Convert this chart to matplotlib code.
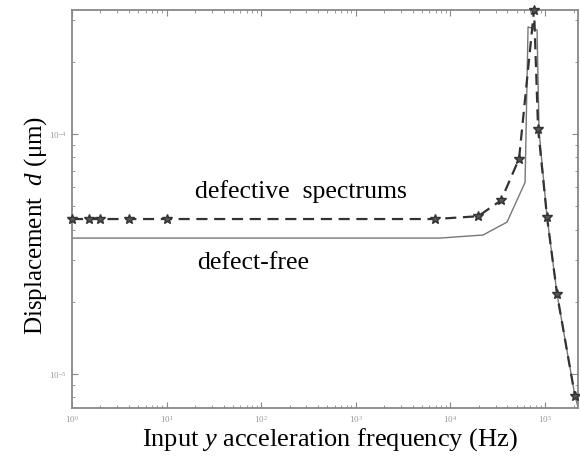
import numpy as np
import matplotlib
matplotlib.use("Agg")
import matplotlib.pyplot as plt
from matplotlib.ticker import LogLocator, NullFormatter

plt.rcParams['font.family'] = ['Liberation Serif', 'DejaVu Serif']
plt.rcParams['mathtext.fontset'] = 'custom'
plt.rcParams['mathtext.rm'] = 'Liberation Serif'
plt.rcParams['mathtext.it'] = 'Liberation Serif:italic'

# defect-free response (solid)
free_freq = [1, 7760, 22100, 39600, 61500, 66100, 82300, 86400, 105000, 134000, 207000, 223000]
free_disp = [3.69e-5, 3.69e-5, 3.8e-5, 4.3e-5, 6.3e-5, 2.8e-4, 2.72e-4, 1.03e-4, 4.5e-5, 2.15e-5, 8.1e-6, 7.3e-6]

# defective spectrums (dashed, with markers)
defect_freq = [1, 1.5, 2, 4, 10, 6870, 19600, 34300, 53100, 76500, 84400, 105000, 134000, 207000]
defect_disp = [4.43e-5, 4.43e-5, 4.43e-5, 4.43e-5, 4.43e-5, 4.43e-5, 4.55e-5, 5.3e-5, 7.9e-5,
               3.3e-4, 1.05e-4, 4.5e-5, 2.15e-5, 8.1e-6]

fig = plt.figure(figsize=(5.8, 4.58), dpi=100)
ax = fig.add_axes([0.124, 0.109, 0.8726, 0.869])

ax.loglog(free_freq, free_disp, color='#777777', lw=1.0, ls='-')
ax.loglog(defect_freq, defect_disp, color='#333333', lw=1.6, ls=(0, (5, 3)),
          marker='*', markersize=7, markerfacecolor='#555555', markeredgecolor='#333333',
          clip_on=False, zorder=3)

ax.set_xlim(1, 2.23e5)
ax.set_ylim(7.22e-6, 3.29e-4)

ax.text(0.243, 0.543, 'defective  spectrums', transform=ax.transAxes, fontsize=18.5, va='center')
ax.text(0.247, 0.364, 'defect-free', transform=ax.transAxes, fontsize=18.5, va='center')

ax.set_xlabel('Input $y$ acceleration frequency (Hz)', fontsize=19)
ax.set_ylabel('Displacement  $d$ (\u03bcm)', fontsize=18)
ax.xaxis.set_label_coords(0.51, -0.045)
ax.yaxis.set_label_coords(-0.045, 0.46)

ax.xaxis.set_major_locator(LogLocator(base=10, numticks=10))
ax.xaxis.set_minor_locator(LogLocator(base=10, subs=np.arange(2, 10), numticks=20))
ax.yaxis.set_minor_locator(LogLocator(base=10, subs=np.arange(2, 10), numticks=20))
ax.xaxis.set_minor_formatter(NullFormatter())
ax.yaxis.set_minor_formatter(NullFormatter())

ax.tick_params(which='both', direction='in', top=True, right=True, colors='#888888',
               labelsize=6.5, labelcolor='#999999', pad=4)
ax.tick_params(which='major', length=4)
ax.tick_params(which='minor', length=2)
for sp in ax.spines.values():
    sp.set_color('#888888')
    sp.set_linewidth(1.3)

fig.savefig('out.png', dpi=100)
